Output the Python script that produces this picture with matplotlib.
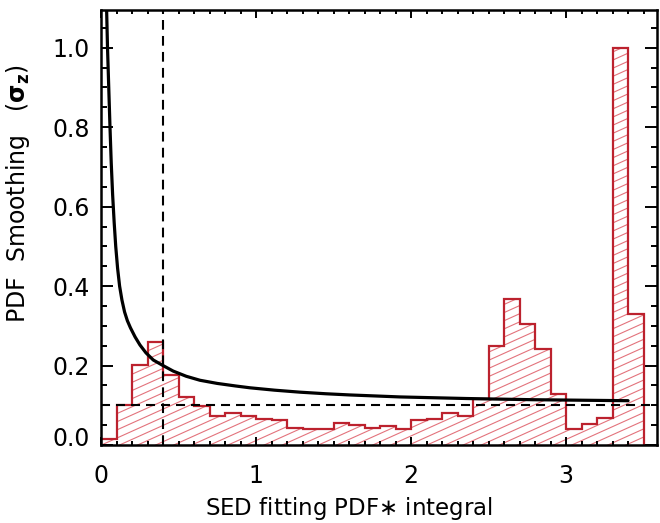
import numpy as np
import matplotlib
matplotlib.use("Agg")
import matplotlib.pyplot as plt
from matplotlib.collections import LineCollection
from matplotlib.ticker import MultipleLocator
import matplotlib.transforms as mtransforms

plt.rcParams['font.family'] = ['DejaVu Sans']
plt.rcParams['mathtext.fontset'] = 'dejavusans'
plt.rcParams['lines.scale_dashes'] = False

# histogram of the SED-fitting PDF integral (normalised to the peak bin)
bin_edges = np.linspace(0.0, 3.5, 36)
hist_vals = [0.014, 0.100, 0.202, 0.260, 0.176, 0.122, 0.099, 0.073, 0.081, 0.074,
             0.065, 0.063, 0.044, 0.040, 0.040, 0.055, 0.050, 0.042, 0.047, 0.041,
             0.063, 0.065, 0.080, 0.073, 0.116, 0.250, 0.368, 0.304, 0.241, 0.128,
             0.041, 0.052, 0.068, 1.000, 0.330]

# smoothing width as a function of the integral
curve_x = [0.036, 0.042, 0.050, 0.058, 0.066, 0.075, 0.085, 0.095, 0.107, 0.120,
           0.135, 0.152, 0.170, 0.190, 0.220, 0.251, 0.290, 0.337, 0.400, 0.466,
           0.550, 0.638, 0.750, 0.870, 0.961, 1.120, 1.283, 1.450, 1.605, 1.928,
           2.358, 2.786, 3.400]
curve_y = [1.100, 1.000, 0.900, 0.800, 0.710, 0.630, 0.560, 0.500, 0.445, 0.400,
           0.365, 0.335, 0.313, 0.295, 0.272, 0.252, 0.232, 0.214, 0.200, 0.186,
           0.173, 0.163, 0.155, 0.1485, 0.144, 0.138, 0.133, 0.129, 0.126, 0.121,
           0.117, 0.114, 0.1115]

x_cut = 0.4
y_floor = 0.1

red = '#bc222e'
hatch_red = '#e3737c'

fig = plt.figure(figsize=(6.6, 5.23), dpi=100)
ax = fig.add_axes([101 / 660, 1 - 445 / 523, 556.5 / 660, 435 / 523])

xmax, ymax = 3.59, 1.095
ax.set_xlim(0, xmax)
ax.set_ylim(0, ymax)

# filled step shape, used only as a clip region for the diagonal hatching
fill_patch = ax.stairs(hist_vals, bin_edges, baseline=0, fill=True,
                       facecolor='none', edgecolor='none', zorder=1)
slope = 0.45 * (155.1 / 397.3)
segs = []
for b in np.arange(-0.8, 1.2, 0.0205):
    segs.append([(0, b), (xmax, b + slope * xmax)])
hatch = LineCollection(segs, colors=hatch_red, linewidths=0.8, zorder=1)
hatch.set_clip_path(fill_patch)
ax.add_collection(hatch)

ax.stairs(hist_vals, bin_edges, baseline=0, color=red, linewidth=1.6, zorder=2)

ax.axvline(x_cut, color='black', linewidth=1.5, dashes=(7, 4.5), zorder=3)
ax.axhline(y_floor, color='black', linewidth=1.5, dashes=(6.5, 4.3), zorder=3)

ax.plot(curve_x, curve_y, color='black', linewidth=2.3, zorder=4,
        solid_joinstyle='round', solid_capstyle='round')

ax.set_xticks([0, 1, 2, 3])
ax.set_yticks([0.0, 0.2, 0.4, 0.6, 0.8, 1.0])
ax.set_yticklabels(['0.0', '0.2', '0.4', '0.6', '0.8', '1.0'])
ax.xaxis.set_minor_locator(MultipleLocator(0.1))
ax.yaxis.set_minor_locator(MultipleLocator(0.05))
ax.tick_params(axis='both', which='both', direction='in', top=True, right=True,
               width=1.4, labelsize=17)
ax.tick_params(axis='x', which='major', length=5.8, pad=14)
ax.tick_params(axis='x', which='minor', length=2.9)
ax.tick_params(axis='y', which='major', length=8.5, pad=8)
ax.tick_params(axis='y', which='minor', length=4.3)
for sp in ax.spines.values():
    sp.set_linewidth(1.8)

# nudge the bottom y label up off the x axis
lab0 = ax.get_yticklabels()[0]
lab0.set_transform(lab0.get_transform() +
                   mtransforms.ScaledTranslation(0, 6 / 72, fig.dpi_scale_trans))

fig.text(349 / 660, 1 - 515 / 523, 'SED fitting PDF$\\ast$ integral',
         fontsize=16.5, ha='center', va='baseline')
fig.text(18 / 660, 1 - 194 / 523, 'PDF  Smoothing   ($\\mathbf{\\sigma_z}$)',
         fontsize=17, rotation=90, ha='center', va='center')

fig.savefig('out.png', dpi=100)
